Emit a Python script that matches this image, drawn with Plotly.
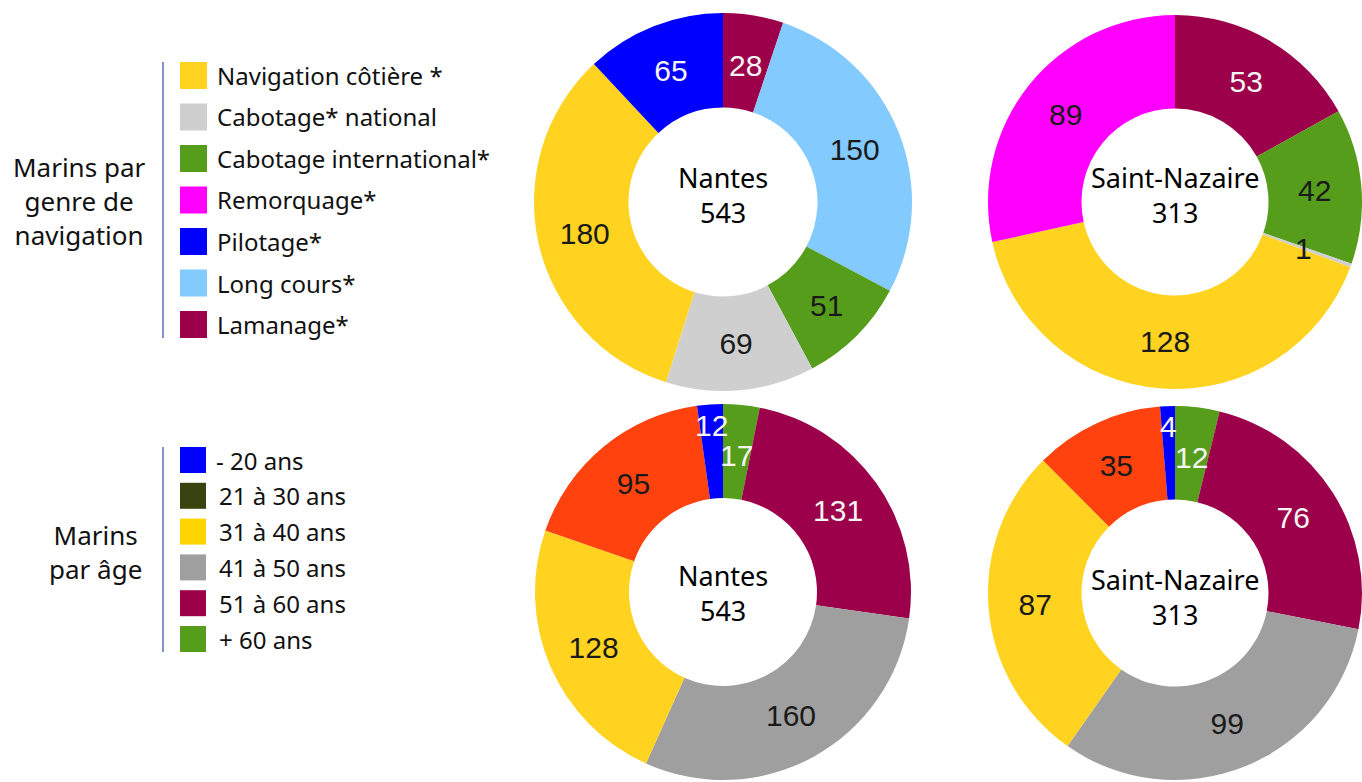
import math
import plotly.graph_objects as go

# ---------------- data ----------------
nav_labels = ["Navigation côtière *", "Cabotage* national", "Cabotage international*",
              "Remorquage*", "Pilotage*", "Long cours*", "Lamanage*"]
nav_colors = ["#FFD320", "#CFCFCF", "#579D1C", "#FF00FF", "#0000FF", "#83CAFF", "#9C004A"]
# values in legend order
nav_nantes = [180, 69, 51, 0, 65, 150, 28]
nav_stnaz = [128, 1, 42, 89, 0, 0, 53]

age_labels = ["- 20 ans", "21 à 30 ans", "31 à 40 ans", "41 à 50 ans", "51 à 60 ans", "+ 60 ans"]
age_legend_colors = ["#0000FF", "#384310", "#FFD500", "#A09F9F", "#9C004A", "#579D1C"]
age_pie_colors = ["#0000FF", "#FF420E", "#FFD320", "#A09F9F", "#9C004A", "#579D1C"]
age_nantes = [12, 95, 128, 160, 131, 17]
age_stnaz = [4, 35, 87, 99, 76, 12]

port_names = ["Nantes", "Saint-Nazaire"]

# clockwise drawing order starting at 12 o'clock
nav_order = [6, 5, 2, 1, 0, 3, 4]
age_order = [5, 4, 3, 2, 1, 0]

# label text colour per slice (light on dark slices)
nav_txt = ["#1a1a1a", "#1a1a1a", "#1a1a1a", "#1a1a1a", "#f4f4f4", "#1a1a1a", "#f4f4f4"]
age_txt = ["#f4f4f4", "#1a1a1a", "#1a1a1a", "#1a1a1a", "#f4f4f4", "#f4f4f4"]

W, H = 1362, 782
HOLE = 0.5
LABEL_FONT = dict(family="Liberation Sans", size=30)

annotations = []
shapes = []


def dom(cx, cy, r):
    return dict(x=[max(0, (cx - r) / W), min(1, (cx + r) / W)],
                y=[max(0, 1 - (cy + r) / H), min(1, 1 - (cy - r) / H)])


def donut(labels, values, colors, txtcols, order, cx, cy, r, name, title_y):
    vals = [values[i] for i in order]
    cols = [txtcols[i] for i in order]
    total = sum(vals)
    texts = []
    cum = 0
    for v, c in zip(vals, cols):
        frac = v / total
        mid = (cum + v / 2) / total * 360
        if v == 0:
            texts.append("")
        elif frac < 0.06:
            # thin slice: label placed along the slice's mid-angle
            texts.append("")
            ang = math.radians(mid)
            rm = r * (0.73 if mid < 180 else 0.89)
            annotations.append(dict(text=str(v), xref="paper", yref="paper",
                                    x=(cx + rm * math.sin(ang)) / W,
                                    y=1 - (cy - rm * math.cos(ang)) / H,
                                    xanchor="center", yanchor="middle", showarrow=False,
                                    font=dict(color=c, **LABEL_FONT)))
        else:
            texts.append(str(v))
        cum += v
    # centre text: name and total
    annotations.append(dict(text=f"{name}<br>{total}", xref="paper", yref="paper",
                            x=cx / W, y=1 - title_y / H, xanchor="center", yanchor="middle",
                            showarrow=False, align="center",
                            font=dict(family="Noto Sans", size=27, color="#000000")))
    return go.Pie(
        labels=[labels[i] for i in order],
        values=vals,
        text=texts,
        marker=dict(colors=[colors[i] for i in order], line=dict(width=0)),
        textfont=dict(color=cols, **LABEL_FONT),
        texttemplate="%{text}",
        textposition="inside",
        insidetextorientation="horizontal",
        hole=HOLE, sort=False, direction="clockwise", rotation=0,
        domain=dom(cx, cy, r), showlegend=False, hoverinfo="label+value",
    )


fig = go.Figure()
fig.add_trace(donut(nav_labels, nav_nantes, nav_colors, nav_txt, nav_order,
                    723, 202, 189, port_names[0], 195))
fig.add_trace(donut(nav_labels, nav_stnaz, nav_colors, nav_txt, nav_order,
                    1175, 202, 187, port_names[1], 195))
fig.add_trace(donut(age_labels, age_nantes, age_pie_colors, age_txt, age_order,
                    723, 592, 188, port_names[0], 593))
fig.add_trace(donut(age_labels, age_stnaz, age_pie_colors, age_txt, age_order,
                    1175, 593, 187, port_names[1], 597))


def px(x):
    return x / W


def py(y):
    return 1 - y / H


def legend_block(labels, colors, y0, step, size, text_x, line_y0, line_y1, title, title_x, title_y):
    shapes.append(dict(type="line", xref="paper", yref="paper",
                       x0=px(163), x1=px(163), y0=py(line_y0), y1=py(line_y1),
                       line=dict(color="#7F95C8", width=2)))
    for i, (lab, col) in enumerate(zip(labels, colors)):
        top = y0 + i * step
        shapes.append(dict(type="rect", xref="paper", yref="paper",
                           x0=px(180), x1=px(180 + size), y0=py(top + size), y1=py(top),
                           fillcolor=col, line=dict(width=0)))
        annotations.append(dict(text=lab, xref="paper", yref="paper",
                                x=px(text_x[i] if isinstance(text_x, list) else text_x),
                                y=py(top + size / 2), xanchor="left", yanchor="middle",
                                showarrow=False,
                                font=dict(family="Noto Sans", size=24, color="#111111")))
    annotations.append(dict(text=title, xref="paper", yref="paper", x=px(title_x), y=py(title_y),
                            xanchor="center", yanchor="middle", showarrow=False, align="center",
                            font=dict(family="Noto Sans", size=26, color="#111111")))


legend_block(nav_labels, nav_colors, 62, 41.5, 27, 215, 62, 338,
             "Marins par<br>genre de<br>navigation", 79, 201)
legend_block(age_labels, age_legend_colors, 447, 35.8, 26, [214, 217, 217, 217, 217, 217], 447, 652,
             "Marins<br>par âge", 95, 552)

fig.update_layout(
    width=W, height=H, margin=dict(l=0, r=0, t=0, b=0),
    paper_bgcolor="#FFFFFF", plot_bgcolor="#FFFFFF",
    uniformtext=dict(minsize=30, mode="show"),
    shapes=shapes, annotations=annotations,
)

fig.write_html("out.html", config={"displayModeBar": False},
               post_script="document.body.style.margin='0';")
